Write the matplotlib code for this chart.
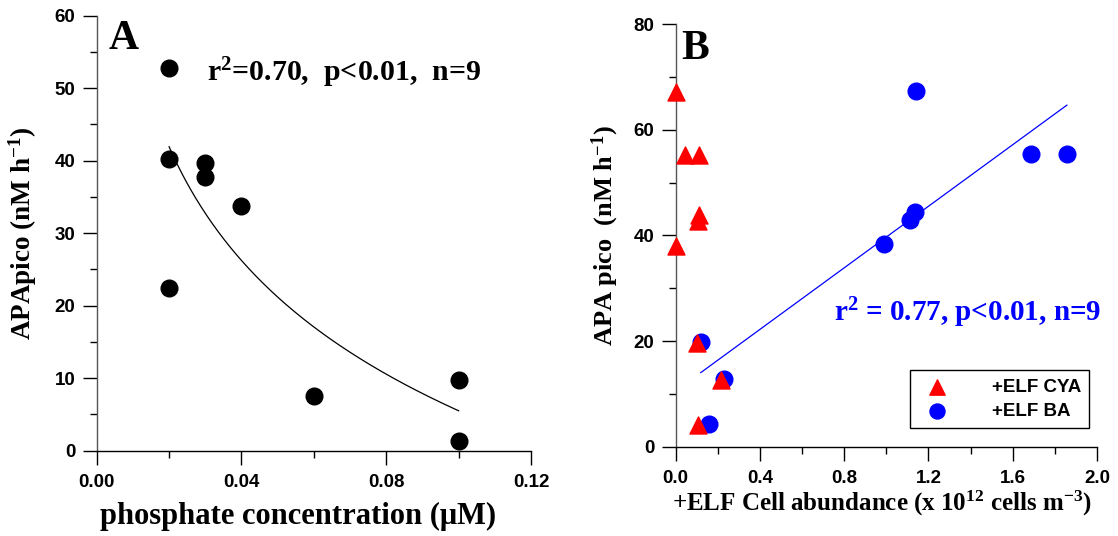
import matplotlib
matplotlib.use('Agg')
import matplotlib.pyplot as plt
import numpy as np
from matplotlib.ticker import MultipleLocator, FormatStrFormatter

plt.rcParams['mathtext.fontset'] = 'custom'
plt.rcParams['mathtext.rm'] = 'Liberation Serif:bold'
plt.rcParams['mathtext.it'] = 'Liberation Serif:bold'
plt.rcParams['mathtext.bf'] = 'Liberation Serif:bold'

# Panel A: phosphate vs APA pico
phos = [0.02, 0.02, 0.02, 0.03, 0.03, 0.04, 0.06, 0.10, 0.10]
apa_a = [52.8, 40.2, 22.5, 39.7, 37.8, 33.8, 7.6, 9.8, 1.4]

# Panel B: ELF cell abundance vs APA pico
cya_x = [0.0, 0.045, 0.11, 0.11, 0.105, 0.0, 0.10, 0.215, 0.105]
cya_y = [67.2, 55.2, 55.2, 43.8, 42.7, 38.0, 19.6, 12.6, 4.1]
ba_x = [1.143, 1.686, 1.857, 1.134, 1.114, 0.988, 0.119, 0.230, 0.160]
ba_y = [67.4, 55.4, 55.4, 44.4, 42.9, 38.3, 19.9, 12.8, 4.3]

serif = 'Liberation Serif'
sans = 'Liberation Sans'
W, H = 1118, 536

fig = plt.figure(figsize=(11.18, 5.36), dpi=100)
# axes boxes in pixels: left, top, right, bottom
def box(l, t, r, b):
    return [l / W, 1 - b / H, (r - l) / W, (b - t) / H]

axA = fig.add_axes(box(96.7, 15.7, 531, 450.7))
axB = fig.add_axes(box(675.7, 24.3, 1097, 446.7))

def style_axis(ax):
    for s in ['top', 'right']:
        ax.spines[s].set_visible(False)
    ax.spines['left'].set_color('#555555')
    for s in ['left', 'bottom']:
        ax.spines[s].set_linewidth(1.0)
    ax.tick_params(which='major', direction='out', length=10, width=1.0)
    ax.tick_params(which='minor', direction='out', length=5, width=1.0)
    ax.tick_params(axis='x', which='major', pad=6.5)
    ax.tick_params(axis='y', which='major', pad=5.5)
    for lab in ax.get_xticklabels() + ax.get_yticklabels():
        lab.set_fontfamily(sans)
        lab.set_fontweight('bold')
        lab.set_fontsize(13.5)

# ---- Panel A ----
axA.scatter(phos, apa_a, s=144, color='black', zorder=3, clip_on=False)
coef = np.polyfit(np.log(phos), apa_a, 1)
xf = np.linspace(min(phos), max(phos), 200)
axA.plot(xf, coef[1] + coef[0] * np.log(xf), color='black', lw=0.9)
axA.set_xlim(0, 0.12)
axA.set_ylim(0, 60)
axA.xaxis.set_major_locator(MultipleLocator(0.04))
axA.xaxis.set_minor_locator(MultipleLocator(0.02))
axA.yaxis.set_major_locator(MultipleLocator(10))
axA.yaxis.set_minor_locator(MultipleLocator(5))
axA.xaxis.set_major_formatter(FormatStrFormatter('%.2f'))
style_axis(axA)
axA.set_xlabel('phosphate concentration (\u03bcM)', fontfamily=serif,
               fontweight='bold', fontsize=22)
axA.xaxis.set_label_coords((298 - 96.7) / 434.3, -0.118)
axA.set_ylabel('APApico (nM h$^{-1}$)', fontfamily=serif,
               fontweight='bold', fontsize=19.5)
axA.yaxis.set_label_coords((39 - 96.7) / 434.3, 0.5)
fig.text(108.3 / W, 1 - 49.3 / H, 'A', fontfamily=serif,
         fontweight='bold', fontsize=30, va='baseline', ha='left')
fig.text(207 / W, 1 - 73 / H, 'r$^2$=0.70,  p<0.01,  n=9',
         fontfamily=serif, fontweight='bold', fontsize=21.5, va='center', ha='left')

# ---- Panel B ----
axB.scatter(ba_x, ba_y, s=144, color='blue', marker='o', zorder=3,
            clip_on=False, label='+ELF BA')
axB.scatter(cya_x, cya_y, s=150, color='red', marker='^', zorder=4,
            clip_on=False, label='+ELF CYA')
cb = np.polyfit(ba_x, ba_y, 1)
xl = np.array([min(ba_x), max(ba_x)])
axB.plot(xl, cb[1] + cb[0] * xl, color='blue', lw=0.9)
axB.set_xlim(0, 2.0)
axB.set_ylim(0, 80)
axB.xaxis.set_major_locator(MultipleLocator(0.4))
axB.xaxis.set_minor_locator(MultipleLocator(0.2))
axB.yaxis.set_major_locator(MultipleLocator(20))
axB.yaxis.set_minor_locator(MultipleLocator(10))
axB.xaxis.set_major_formatter(FormatStrFormatter('%.1f'))
style_axis(axB)
axB.set_xlabel('+ELF Cell abundance (x 10$^{12}$ cells m$^{-3}$)', fontfamily=serif,
               fontweight='bold', fontsize=18)
axB.xaxis.set_label_coords((882 - 675.7) / 421.3, -0.10)
axB.set_ylabel('APA pico  (nM h$^{-1}$)', fontfamily=serif,
               fontweight='bold', fontsize=19)
axB.yaxis.set_label_coords((621 - 675.7) / 421.3, 0.5)
fig.text(681.7 / W, 1 - 59.3 / H, 'B', fontfamily=serif,
         fontweight='bold', fontsize=30, va='baseline', ha='left')
fig.text(1101 / W, 1 - 313 / H, 'r$^2$ = 0.77, p<0.01, n=9',
         fontfamily=serif, fontweight='bold', fontsize=21, va='center',
         ha='right', color='blue')

handles, labels = axB.get_legend_handles_labels()
leg = axB.legend(handles[::-1], labels[::-1], loc='lower left',
                 bbox_to_anchor=((910 - 675.7) / 421.3, (446.7 - 428) / 422.4),
                 frameon=True, fancybox=False, markerscale=0.9,
                 edgecolor='black', framealpha=1, handletextpad=1.9,
                 handlelength=2.0, borderpad=0.45, labelspacing=0.35,
                 borderaxespad=0,
                 prop={'family': sans, 'weight': 'bold', 'size': 13.5})
leg.get_frame().set_linewidth(1.0)

fig.savefig('out.png', dpi=100)
